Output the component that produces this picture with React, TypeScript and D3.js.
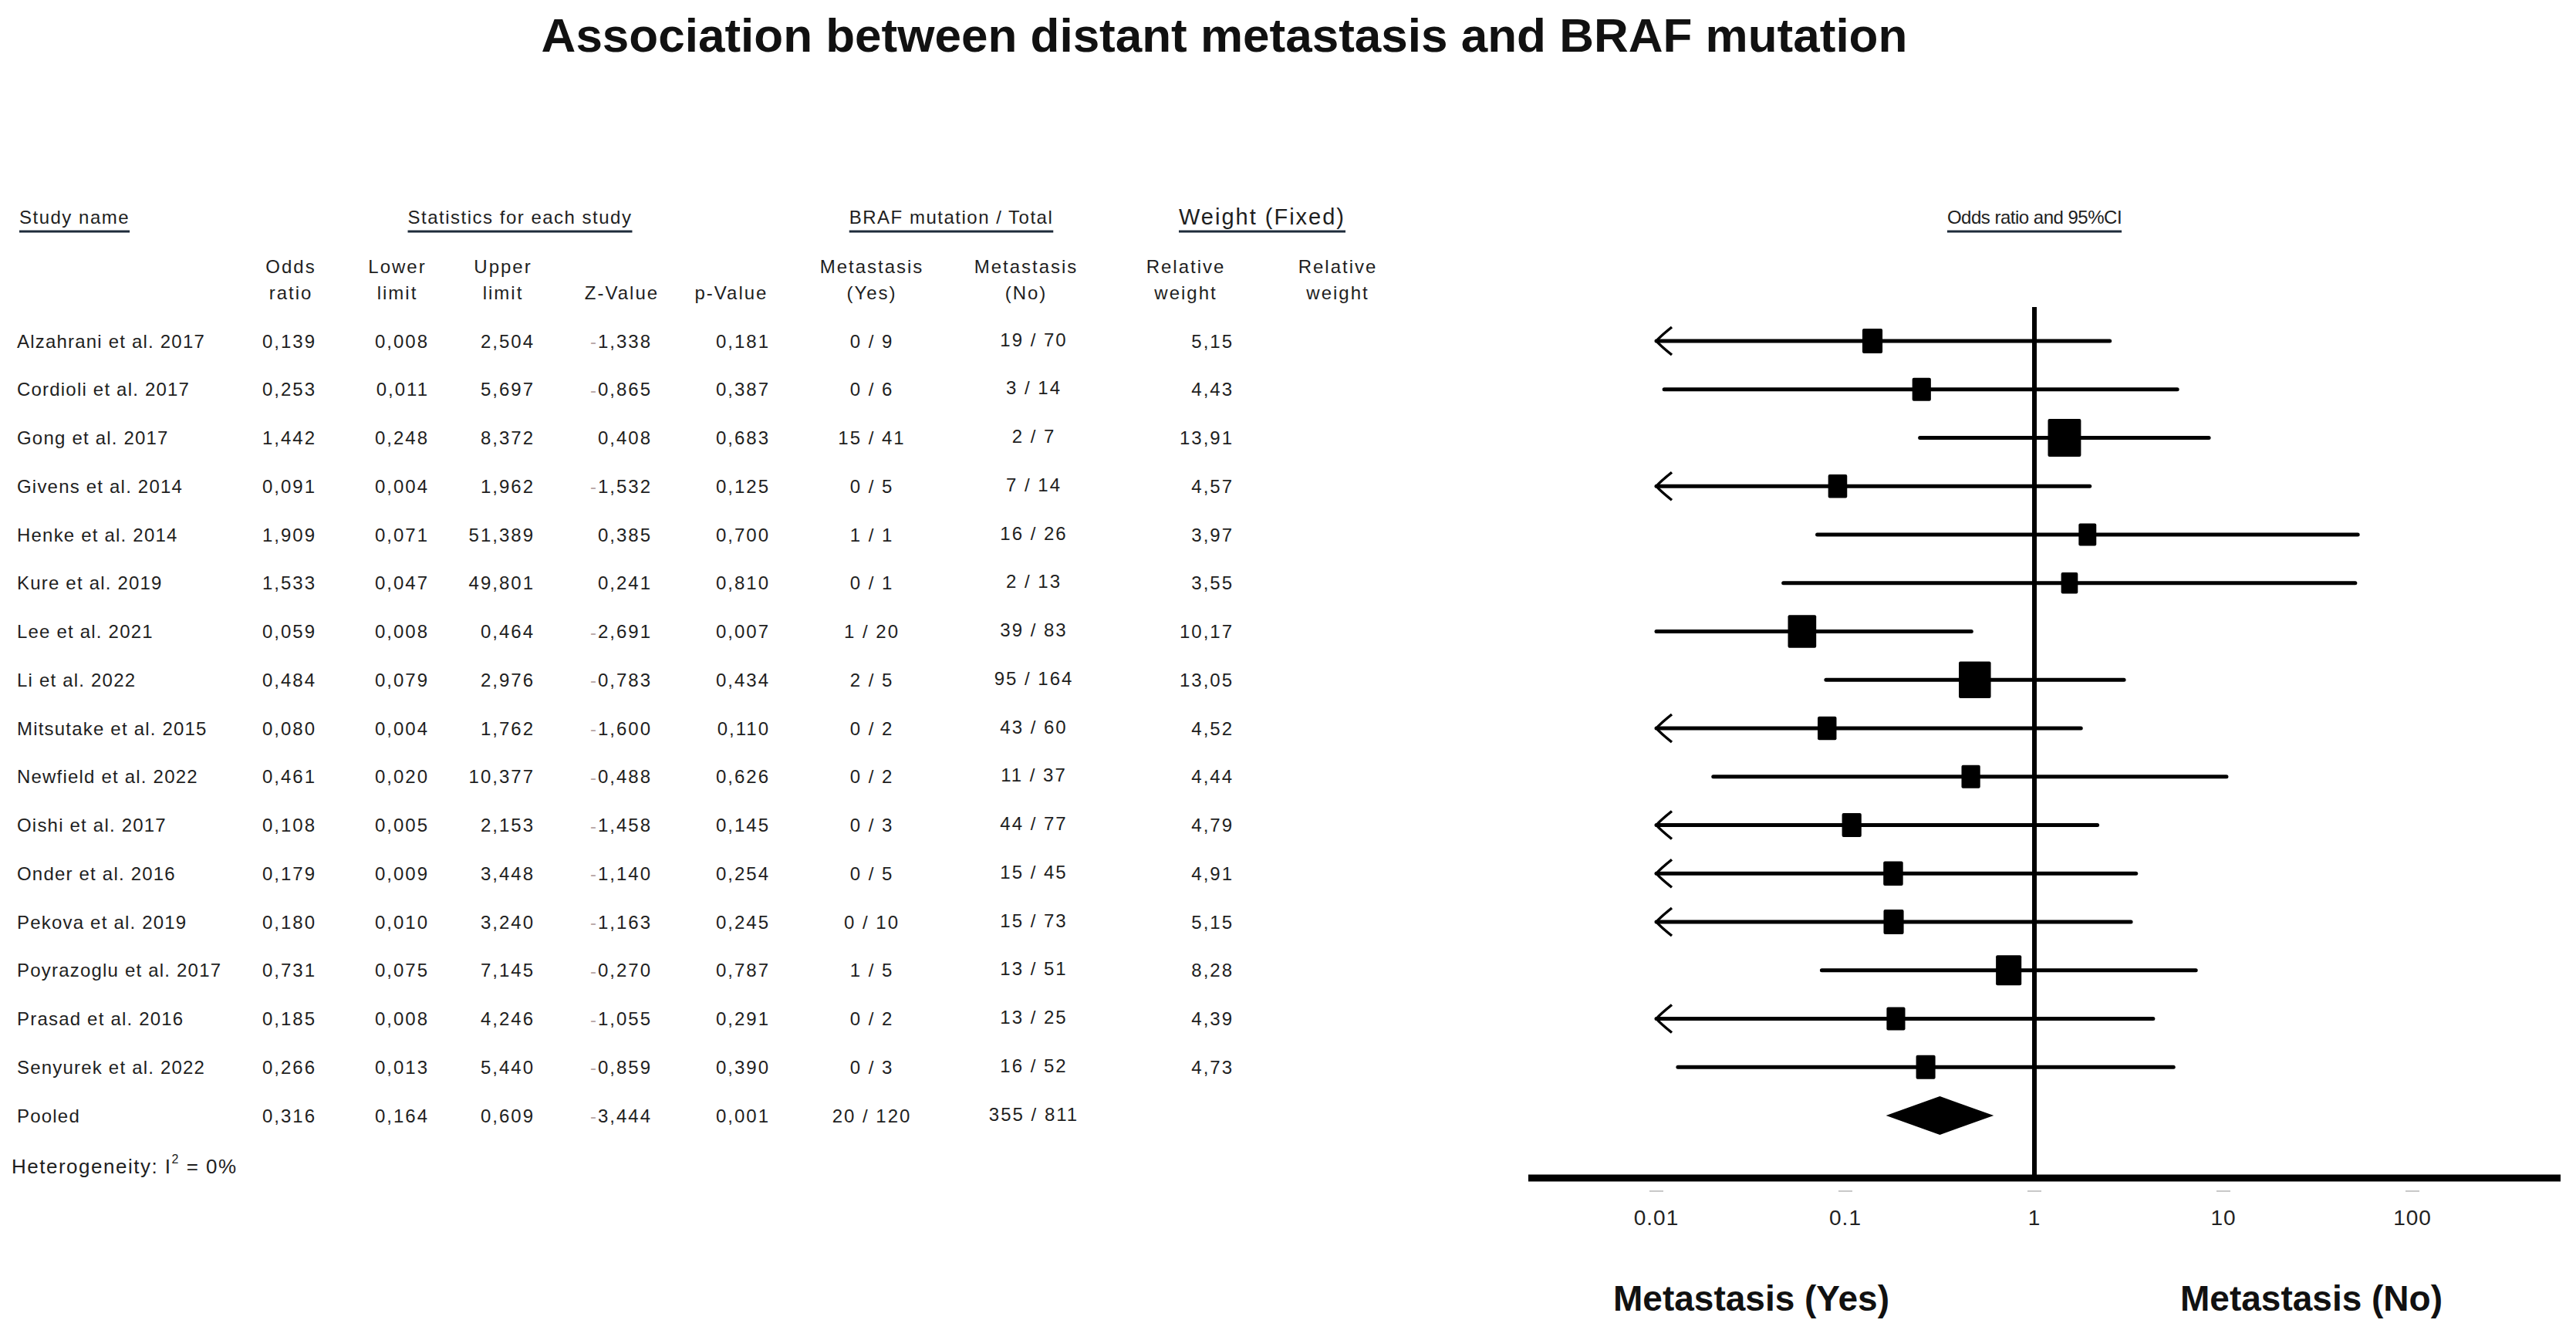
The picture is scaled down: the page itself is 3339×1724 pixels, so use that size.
import React from 'react';
import * as d3 from 'd3';

const studies = [
  'Alzahrani et al. 2017', 'Cordioli et al. 2017', 'Gong et al. 2017', 'Givens et al. 2014',
  'Henke et al. 2014', 'Kure et al. 2019', 'Lee et al. 2021', 'Li et al. 2022',
  'Mitsutake et al. 2015', 'Newfield et al. 2022', 'Oishi et al. 2017', 'Onder et al. 2016',
  'Pekova et al. 2019', 'Poyrazoglu et al. 2017', 'Prasad et al. 2016', 'Senyurek et al. 2022',
];
const oddsRatio = [0.139, 0.253, 1.442, 0.091, 1.909, 1.533, 0.059, 0.484, 0.080, 0.461, 0.108, 0.179, 0.180, 0.731, 0.185, 0.266];
const lowerLimit = [0.008, 0.011, 0.248, 0.004, 0.071, 0.047, 0.008, 0.079, 0.004, 0.020, 0.005, 0.009, 0.010, 0.075, 0.008, 0.013];
const upperLimit = [2.504, 5.697, 8.372, 1.962, 51.389, 49.801, 0.464, 2.976, 1.762, 10.377, 2.153, 3.448, 3.240, 7.145, 4.246, 5.440];
const zValue = [-1.338, -0.865, 0.408, -1.532, 0.385, 0.241, -2.691, -0.783, -1.600, -0.488, -1.458, -1.140, -1.163, -0.270, -1.055, -0.859];
const pValue = [0.181, 0.387, 0.683, 0.125, 0.700, 0.810, 0.007, 0.434, 0.110, 0.626, 0.145, 0.254, 0.245, 0.787, 0.291, 0.390];
const metYes = ['0 / 9', '0 / 6', '15 / 41', '0 / 5', '1 / 1', '0 / 1', '1 / 20', '2 / 5', '0 / 2', '0 / 2', '0 / 3', '0 / 5', '0 / 10', '1 / 5', '0 / 2', '0 / 3'];
const metNo = ['19 / 70', '3 / 14', '2 / 7', '7 / 14', '16 / 26', '2 / 13', '39 / 83', '95 / 164', '43 / 60', '11 / 37', '44 / 77', '15 / 45', '15 / 73', '13 / 51', '13 / 25', '16 / 52'];
const relWeight = [5.15, 4.43, 13.91, 4.57, 3.97, 3.55, 10.17, 13.05, 4.52, 4.44, 4.79, 4.91, 5.15, 8.28, 4.39, 4.73];
// whether the CI line is drawn with a left arrow (as seen in the picture)
const leftArrow = [true, false, false, true, false, false, false, false, true, false, true, true, true, false, true, false];

const pooledLabel = 'Pooled';
const pooledOR = 0.316;
const pooledLower = 0.164;
const pooledUpper = 0.609;
const pooledZ = -3.444;
const pooledP = 0.001;
const pooledYes = '20 / 120';
const pooledNo = '355 / 811';
const heterogeneity = 'Heterogeneity: I';

const axisTicks = [0.01, 0.1, 1, 10, 100];
const axisTickLabels = ['0.01', '0.1', '1', '10', '100'];

const W = 3339;
const H = 1724;
const FONT = '"Liberation Sans", Arial, sans-serif';
const TXT = '#1e1e1e';

const fmt3 = (v: number) => Math.abs(v).toFixed(3).replace('.', ',');
const fmt2 = (v: number) => v.toFixed(2).replace('.', ',');

export default function App() {
  const x = d3.scaleLog().domain([0.01, 100]).range([2147, 3127]);
  const y = d3.scaleLinear().domain([0, 16]).range([442, 1446]);
  const xc = (v: number) => x(Math.max(0.01, Math.min(100, v)));
  const sq = (w: number) => 11.5 * Math.sqrt(w);

  const cell = { fontFamily: FONT, fontSize: 24, letterSpacing: 2, fill: TXT };
  const nameCell = { ...cell, letterSpacing: 1.2 };

  const numCell = (v: number, xr: number, yy: number, key: string) => (
    <text key={key} x={xr} y={yy} textAnchor="end" dominantBaseline="central" style={cell}>
      {v < 0 ? <tspan fill="#b9a9a9">-</tspan> : null}
      {fmt3(v)}
    </text>
  );

  const headers1 = [
    { t: 'Study name', x: 25, anchor: 'start', size: 24, ls: 1.5 },
    { t: 'Statistics for each study', x: 674, anchor: 'middle', size: 24, ls: 1.5 },
    { t: 'BRAF mutation / Total', x: 1233, anchor: 'middle', size: 24, ls: 1.5 },
    { t: 'Weight (Fixed)', x: 1636, anchor: 'middle', size: 29, ls: 2 },
    { t: 'Odds ratio and 95%CI', x: 2637, anchor: 'middle', size: 24, ls: -0.5 },
  ];

  const headers2 = [
    { l: ['Odds', 'ratio'], x: 377 },
    { l: ['Lower', 'limit'], x: 515 },
    { l: ['Upper', 'limit'], x: 652 },
    { l: ['', 'Z-Value'], x: 806 },
    { l: ['', 'p-Value'], x: 948 },
    { l: ['Metastasis', '(Yes)'], x: 1130 },
    { l: ['Metastasis', '(No)'], x: 1330 },
    { l: ['Relative', 'weight'], x: 1537 },
    { l: ['Relative', 'weight'], x: 1734 },
  ];

  return (
    <svg width={W} height={H} viewBox={`0 0 ${W} ${H}`} style={{ position: 'absolute', left: 0, top: 0, background: '#fff' }}>
      <rect x={0} y={0} width={W} height={H} fill="#fff" />
      <text x={1587} y={45} textAnchor="middle" dominantBaseline="central"
        style={{ fontFamily: FONT, fontSize: 62, fontWeight: 700, fill: '#111' }}>
        Association between distant metastasis and BRAF mutation
      </text>

      {headers1.map((h, i) => (
        <HeaderUnderlined key={'h1' + i} {...h} />
      ))}

      {headers2.map((h, i) => (
        <g key={'h2' + i}>
          {h.l[0] && (
            <text x={h.x} y={345} textAnchor="middle" dominantBaseline="central" style={cell}>{h.l[0]}</text>
          )}
          <text x={h.x} y={379} textAnchor="middle" dominantBaseline="central" style={cell}>{h.l[1]}</text>
        </g>
      ))}

      {studies.map((s, i) => {
        const yy = y(i);
        return (
          <g key={'r' + i}>
            <text x={22} y={yy} dominantBaseline="central" style={nameCell}>{s}</text>
            {numCell(oddsRatio[i], 410, yy, 'or')}
            {numCell(lowerLimit[i], 556, yy, 'lo')}
            {numCell(upperLimit[i], 693, yy, 'hi')}
            {numCell(zValue[i], 845, yy, 'z')}
            {numCell(pValue[i], 998, yy, 'p')}
            <text x={1130} y={yy} textAnchor="middle" dominantBaseline="central" style={cell}>{metYes[i]}</text>
            <text x={1340} y={yy - 2} textAnchor="middle" dominantBaseline="central" style={cell}>{metNo[i]}</text>
            <text x={1599} y={yy} textAnchor="end" dominantBaseline="central" style={cell}>{fmt2(relWeight[i])}</text>
          </g>
        );
      })}

      <g>
        <text x={22} y={y(16)} dominantBaseline="central" style={nameCell}>{pooledLabel}</text>
        {numCell(pooledOR, 410, y(16), 'por')}
        {numCell(pooledLower, 556, y(16), 'plo')}
        {numCell(pooledUpper, 693, y(16), 'phi')}
        {numCell(pooledZ, 845, y(16), 'pz')}
        {numCell(pooledP, 998, y(16), 'pp')}
        <text x={1130} y={y(16)} textAnchor="middle" dominantBaseline="central" style={cell}>{pooledYes}</text>
        <text x={1340} y={y(16) - 2} textAnchor="middle" dominantBaseline="central" style={cell}>{pooledNo}</text>
      </g>
      <text x={15} y={1512} dominantBaseline="central" style={{ ...cell, fontSize: 26, letterSpacing: 1.5 }}>
        {heterogeneity}
        <tspan fontSize={16} dy={-10}>2</tspan>
        <tspan dy={10}> = 0%</tspan>
      </text>

      {/* forest plot */}
      <line x1={x(1)} x2={x(1)} y1={398} y2={1527} stroke="#000" strokeWidth={6} />
      {studies.map((s, i) => {
        const yy = y(i);
        const lo = xc(lowerLimit[i]);
        const hi = xc(upperLimit[i]);
        const size = sq(relWeight[i]);
        return (
          <g key={'f' + i}>
            <line x1={lo} x2={hi} y1={yy} y2={yy} stroke="#000" strokeWidth={5} strokeLinecap="round" />
            {leftArrow[i] && (
              <path d={`M ${lo + 20},${yy - 18} Q ${lo + 5},${yy - 6} ${lo},${yy} Q ${lo + 5},${yy + 6} ${lo + 20},${yy + 18}`}
                fill="none" stroke="#000" strokeWidth={3.5} />
            )}
            <rect x={x(oddsRatio[i]) - size / 2} y={yy - (size + 6) / 2} width={size} height={size + 6} rx={2} fill="#000" />
          </g>
        );
      })}
      <path
        d={`M ${x(pooledLower)},${y(16)} L ${x(pooledOR)},${y(16) - 25} L ${x(pooledUpper)},${y(16)} L ${x(pooledOR)},${y(16) + 25} Z`}
        fill="#000" />

      <line x1={1981} x2={3319} y1={1527} y2={1527} stroke="#000" strokeWidth={9} />
      {axisTicks.map((t, i) => (
        <g key={'t' + i}>
          <line x1={x(t) - 9} x2={x(t) + 9} y1={1544} y2={1544} stroke="#c8c8c8" strokeWidth={2} />
          <text x={x(t)} y={1578} textAnchor="middle" dominantBaseline="central"
            style={{ fontFamily: FONT, fontSize: 28, fill: '#222', letterSpacing: 1 }}>
            {axisTickLabels[i]}
          </text>
        </g>
      ))}
      <text x={2270} y={1683} textAnchor="middle" dominantBaseline="central"
        style={{ fontFamily: FONT, fontSize: 46, fontWeight: 700, fill: '#111' }}>Metastasis (Yes)</text>
      <text x={2996} y={1683} textAnchor="middle" dominantBaseline="central"
        style={{ fontFamily: FONT, fontSize: 46, fontWeight: 700, fill: '#111' }}>Metastasis (No)</text>
    </svg>
  );
}

function HeaderUnderlined(props: { t: string; x: number; anchor: string; size: number; ls: number }) {
  const ref = React.useRef<SVGTextElement>(null);
  const [bb, setBb] = React.useState<{ x: number; w: number } | null>(null);
  React.useLayoutEffect(() => {
    if (ref.current) {
      const b = ref.current.getBBox();
      setBb({ x: b.x, w: b.width });
    }
  }, [props.t]);
  return (
    <g>
      <text ref={ref} x={props.x} y={281} textAnchor={props.anchor as any} dominantBaseline="central"
        style={{ fontFamily: FONT, fontSize: props.size, letterSpacing: props.ls, fill: TXT }}>
        {props.t}
      </text>
      {bb && <line x1={bb.x} x2={bb.x + bb.w} y1={300} y2={300} stroke="#1d2b3a" strokeWidth={3} />}
    </g>
  );
}
